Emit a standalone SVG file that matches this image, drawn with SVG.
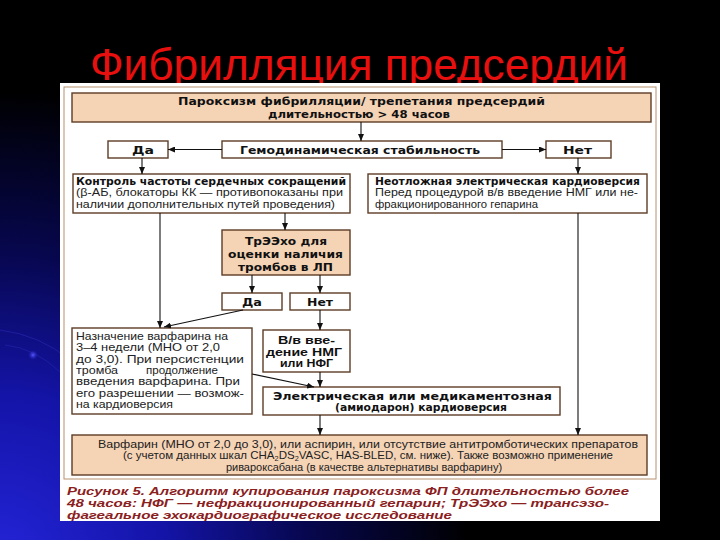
<svg xmlns="http://www.w3.org/2000/svg" width="720" height="540" viewBox="0 0 720 540">
<defs>
<radialGradient id="bg" cx="0" cy="560" r="470" gradientUnits="userSpaceOnUse">
<stop offset="0" stop-color="#2424d8"/>
<stop offset="0.35" stop-color="#1414a8"/>
<stop offset="0.65" stop-color="#070750"/>
<stop offset="1" stop-color="#000000"/>
</radialGradient>
<radialGradient id="dot" cx="0.5" cy="0.5" r="0.5">
<stop offset="0" stop-color="#5a5aff"/>
<stop offset="1" stop-color="#2020c0" stop-opacity="0"/>
</radialGradient>
<marker id="ah" viewBox="0 0 7 6" refX="7" refY="3" markerWidth="7" markerHeight="6" markerUnits="userSpaceOnUse" orient="auto">
<path d="M0,0 L7,3 L0,6 z" fill="#111"/>
</marker>
<style>
.peach{fill:#f5d3b5;stroke:#5e3c26;stroke-width:1.4}
.white{fill:#ffffff;stroke:#5e3c26;stroke-width:1.4}
.b{font-family:"DejaVu Sans","Liberation Sans",sans-serif;font-weight:bold;font-size:11px;fill:#111}
.bl{font-family:"Liberation Sans","DejaVu Sans",sans-serif;font-weight:bold;font-size:10px;fill:#111}
.r{font-family:"Liberation Sans","DejaVu Sans",sans-serif;font-size:11px;fill:#222}
.cap{font-family:"Liberation Sans","DejaVu Sans",sans-serif;font-weight:bold;font-style:italic;font-size:11.5px;fill:#8a2020}
.conn path{fill:none;stroke:#111;stroke-width:1.1;marker-end:url(#ah)}
</style>
</defs>
<rect x="0" y="0" width="720" height="540" fill="#000"/>
<rect x="0" y="0" width="720" height="540" fill="url(#bg)"/>
<path d="M0,330 Q40,335 70,360" fill="none" stroke="#3030c0" stroke-width="0.8" opacity="0.6"/>
<path d="M5,345 Q35,348 60,372" fill="none" stroke="#3030c0" stroke-width="0.8" opacity="0.5"/>
<circle cx="33" cy="355" r="5" fill="url(#dot)"/>

<text x="90" y="80" font-family="'Liberation Sans',Arial,sans-serif" font-size="45" fill="#e8100f" textLength="538" lengthAdjust="spacingAndGlyphs">Фибрилляция предсердий</text>

<rect x="60" y="83" width="600" height="438" fill="#ffffff"/>
<rect x="64" y="87" width="592" height="392" fill="none" stroke="#b8906e" stroke-width="1"/>

<g id="header">
<rect class="peach" x="72" y="93" width="579" height="29"/>
<text class="b" x="178" y="105" textLength="367" lengthAdjust="spacingAndGlyphs">Пароксизм фибрилляции/ трепетания предсердий</text>
<text class="b" x="268" y="117.5" textLength="182" lengthAdjust="spacingAndGlyphs">длительностью &gt; 48 часов</text>
</g>

<g id="hemo">
<rect class="white" x="222" y="141" width="280" height="17"/>
<text class="b" x="240" y="153.5" textLength="240" lengthAdjust="spacingAndGlyphs">Гемодинамическая стабильность</text>
</g>

<g id="yes1">
<rect class="white" x="108" y="141" width="60" height="17"/>
<text class="b" x="132" y="153.5" textLength="22" lengthAdjust="spacingAndGlyphs">Да</text>
</g>

<g id="no1">
<rect class="white" x="546" y="141" width="65" height="17"/>
<text class="b" x="563" y="153.5" textLength="29" lengthAdjust="spacingAndGlyphs">Нет</text>
</g>

<g id="rate">
<rect class="white" x="73" y="174" width="277" height="39"/>
<text class="b" x="76" y="184.5" font-size="9.8" textLength="270" lengthAdjust="spacingAndGlyphs">Контроль частоты сердечных сокращений</text>
<text class="r" x="76" y="196" font-size="10" textLength="267" lengthAdjust="spacingAndGlyphs">(β-АБ, блокаторы КК — противопоказаны при</text>
<text class="r" x="76" y="207.5" font-size="10" textLength="259" lengthAdjust="spacingAndGlyphs">наличии дополнительных путей проведения)</text>
</g>

<g id="urgent">
<rect class="white" x="368" y="174" width="279" height="39"/>
<text class="b" x="375" y="184.5" font-size="9.8" textLength="265" lengthAdjust="spacingAndGlyphs">Неотложная электрическая кардиоверсия</text>
<text class="r" x="375" y="196" font-size="10" textLength="263" lengthAdjust="spacingAndGlyphs">Перед процедурой в/в введение НМГ или не-</text>
<text class="r" x="375" y="207.5" font-size="10" textLength="163" lengthAdjust="spacingAndGlyphs">фракционированного гепарина</text>
</g>

<g id="tee">
<rect class="peach" x="222" y="230" width="128" height="45"/>
<text class="b" x="245" y="245" textLength="82" lengthAdjust="spacingAndGlyphs">ТрЭЭхо для</text>
<text class="b" x="228" y="258" textLength="115" lengthAdjust="spacingAndGlyphs">оценки наличия</text>
<text class="b" x="238" y="271" textLength="95" lengthAdjust="spacingAndGlyphs">тромбов в ЛП</text>
</g>

<g id="yes2">
<rect class="white" x="222" y="293" width="60" height="17"/>
<text class="b" x="242" y="305.5" textLength="20" lengthAdjust="spacingAndGlyphs">Да</text>
</g>

<g id="no2">
<rect class="white" x="290" y="293" width="60" height="17"/>
<text class="b" x="307" y="305.5" textLength="26" lengthAdjust="spacingAndGlyphs">Нет</text>
</g>

<g id="warfarin4w">
<rect class="white" x="72" y="328" width="180" height="86"/>
<text class="r" x="76" y="340" font-size="11.5" textLength="152" lengthAdjust="spacingAndGlyphs">Назначение варфарина на</text>
<text class="r" x="76" y="351.3" font-size="11.5" textLength="144" lengthAdjust="spacingAndGlyphs">3–4 недели (МНО от 2,0</text>
<text class="r" x="76" y="362.6" font-size="11.5" textLength="168" lengthAdjust="spacingAndGlyphs">до 3,0). При персистенции</text>
<text class="r" x="76" y="373.9" font-size="11.5" textLength="42" lengthAdjust="spacingAndGlyphs">тромба</text>
<text class="r" x="146" y="373.9" font-size="11.5" textLength="72" lengthAdjust="spacingAndGlyphs">продолжение</text>
<text class="r" x="76" y="385.2" font-size="11.5" textLength="164" lengthAdjust="spacingAndGlyphs">введения варфарина. При</text>
<text class="r" x="76" y="396.5" font-size="11.5" textLength="168" lengthAdjust="spacingAndGlyphs">его разрешении — возмож-</text>
<text class="r" x="76" y="407.8" font-size="11.5" textLength="97" lengthAdjust="spacingAndGlyphs">на кардиоверсия</text>
</g>

<g id="heparin">
<rect class="white" x="263" y="330" width="87" height="42"/>
<text class="bl" x="278" y="344" textLength="57" lengthAdjust="spacingAndGlyphs">В/в вве-</text>
<text class="bl" x="266" y="355.5" textLength="76" lengthAdjust="spacingAndGlyphs">дение НМГ</text>
<text class="bl" x="280" y="367" textLength="53" lengthAdjust="spacingAndGlyphs">или НФГ</text>
</g>

<g id="cardioversion">
<rect class="white" x="263" y="387" width="297" height="28"/>
<text class="b" x="273" y="399.5" textLength="279" lengthAdjust="spacingAndGlyphs">Электрическая или медикаментозная</text>
<text class="b" x="335" y="411" textLength="172" lengthAdjust="spacingAndGlyphs">(амиодарон) кардиоверсия</text>
</g>

<g id="final">
<rect class="peach" x="72" y="435" width="575" height="40"/>
<text class="r" x="98" y="447.5" textLength="540" lengthAdjust="spacingAndGlyphs">Варфарин (МНО от 2,0 до 3,0), или аспирин, или отсутствие антитромботических препаратов</text>
<text class="r" x="123" y="459" textLength="490" lengthAdjust="spacingAndGlyphs">(с учетом данных шкал CHA<tspan font-size="7" dy="2">2</tspan><tspan dy="-2">DS</tspan><tspan font-size="7" dy="2">2</tspan><tspan dy="-2">VASC, HAS-BLED, см. ниже). Также возможно применение</tspan></text>
<text class="r" x="364" y="470.5" text-anchor="middle">ривароксабана (в качестве альтернативы варфарину)</text>
</g>

<g id="caption">
<text class="cap" x="67" y="495" textLength="562" lengthAdjust="spacingAndGlyphs">Рисунок 5. Алгоритм купирования пароксизма ФП длительностью более</text>
<text class="cap" x="67" y="506.8" textLength="542" lengthAdjust="spacingAndGlyphs">48 часов: НФГ — нефракционированный гепарин; ТрЭЭхо — трансэзо-</text>
<text class="cap" x="67" y="518.5" textLength="385" lengthAdjust="spacingAndGlyphs">фагеальное эхокардиографическое исследование</text>
</g>

<g id="connectors" class="conn">
<path d="M361,122 V141"/>
<path d="M222,149.5 H168"/>
<path d="M502,149.5 H546"/>
<path d="M142,158 V174"/>
<path d="M578,158 V174"/>
<path d="M285,213 V230"/>
<path d="M160,213 V328"/>
<path d="M243,310 L164,327"/>
<path d="M252,275 V293"/>
<path d="M320,275 V293"/>
<path d="M320,310 V330"/>
<path d="M320,372 V387"/>
<path d="M252,374 L314,387"/>
<path d="M320,415 V435"/>
<path d="M578,213 V435"/>
</g>
</svg>
